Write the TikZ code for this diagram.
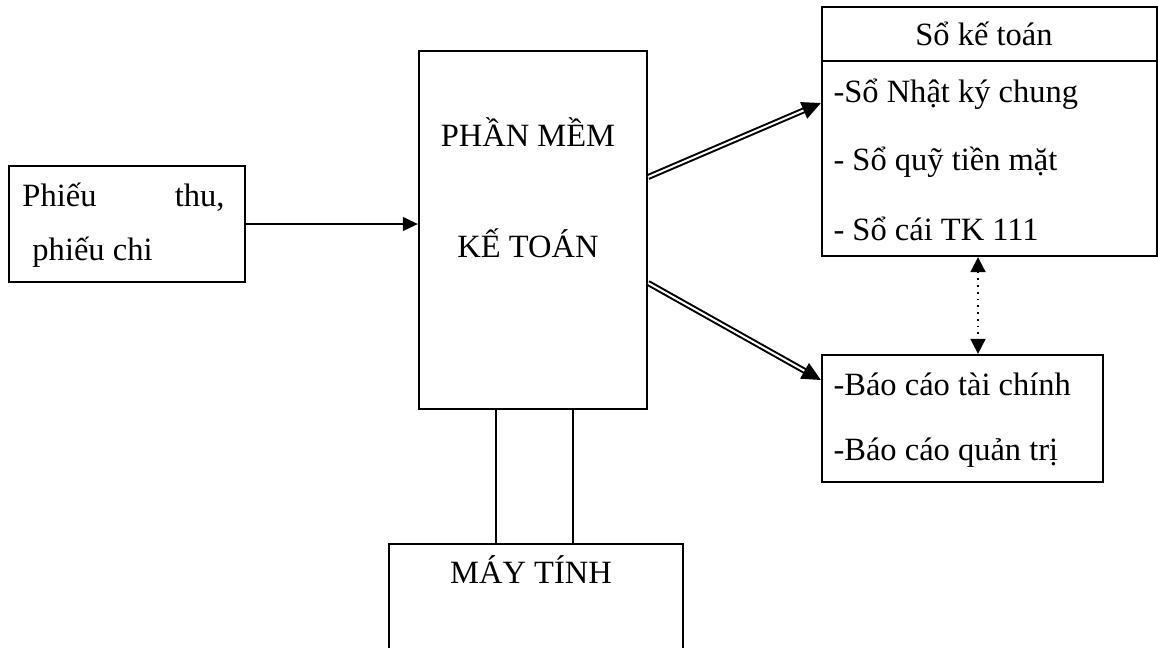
\documentclass[tikz,border=0pt]{standalone}
\usepackage{fontspec}
\setmainfont{Liberation Serif}
\usetikzlibrary{arrows.meta}

\begin{document}
\begin{tikzpicture}[
  x=0.4pt, y=-0.4pt,
  font=\fontsize{13pt}{15pt}\selectfont,
  box/.style={draw=black, line width=0.9pt, inner sep=0pt},
  txt/.style={inner sep=0pt},
  link/.style={draw=black, line width=0.8pt, -{Triangle[length=6pt, width=5.5pt]}},
  dbl/.style={draw=black, line width=0.8pt, double, double distance=0.8pt,
              -{Triangle[length=7.5pt, width=7pt]}},
  dots/.style={draw=black, line width=0.7pt, dotted,
               {Triangle[length=6pt, width=6pt]}-{Triangle[length=6pt, width=6pt]}},
  wire/.style={draw=black, line width=0.7pt}
]
\useasboundingbox (0,0) rectangle (1158,647);
\clip (0,0) rectangle (1158,647);
% boxes
\node[box, minimum width=94.4pt, minimum height=46.4pt] (phieu) at (127,224) {};
\node[box, minimum width=91.2pt, minimum height=143.2pt] (phan) at (533,230) {};
\node[box, minimum width=134pt, minimum height=99.6pt] (so) at (989.5,131.5) {};
\node[box, minimum width=112.4pt, minimum height=50.8pt] (bao) at (962.5,418.5) {};
\node[box, anchor=north, minimum width=117.6pt, minimum height=52pt] (may) at (536,543) {};
\draw[line width=0.9pt] ([yshift=-22pt]so.north west) -- ([yshift=-22pt]so.north east);
% texts
\node[txt, anchor=base west] (phieuA) at (22,206) {Phiếu};
\node[txt, anchor=base east] (phieuB) at (225,206) {thu,};
\node[txt, anchor=base west] (phieuC) at (32,260) {phiếu chi};
\node[txt, anchor=base] (phanA) at (528,146) {PHẦN MỀM};
\node[txt, anchor=base] (phanB) at (528,257) {KẾ TOÁN};
\node[txt, anchor=base] (soHead) at (984,45) {Sổ kế toán};
\node[txt, anchor=base west] (soA) at (833,102) {-Sổ Nhật ký chung};
\node[txt, anchor=base west] (soB) at (833,170) {- Sổ quỹ tiền mặt};
\node[txt, anchor=base west] (soC) at (833,240) {- Sổ cái TK 111};
\node[txt, anchor=base west] (baoA) at (833,395) {-Báo cáo tài chính};
\node[txt, anchor=base west] (baoB) at (833,460) {-Báo cáo quản trị};
\node[txt, anchor=base] (mayA) at (531,583) {MÁY TÍNH};
% connectors
\draw[link] (phieu.east) -- (phieu.east -| phan.west);
\draw[dbl] ([yshift=21.2pt]phan.east) -- ([yshift=11.4pt]so.west);
\draw[dbl] ([yshift=-21.2pt]phan.east) -- ([yshift=15.4pt]bao.west);
\coordinate (dotTop) at ([xshift=-4.6pt]so.south);
\draw[dots] (dotTop) -- (dotTop |- bao.north);
\coordinate (wireL) at ([xshift=-14.8pt]phan.south);
\coordinate (wireR) at ([xshift=16pt]phan.south);
\draw[wire] (wireL) -- (wireL |- may.north);
\draw[wire] (wireR) -- (wireR |- may.north);
\end{tikzpicture}
\end{document}
